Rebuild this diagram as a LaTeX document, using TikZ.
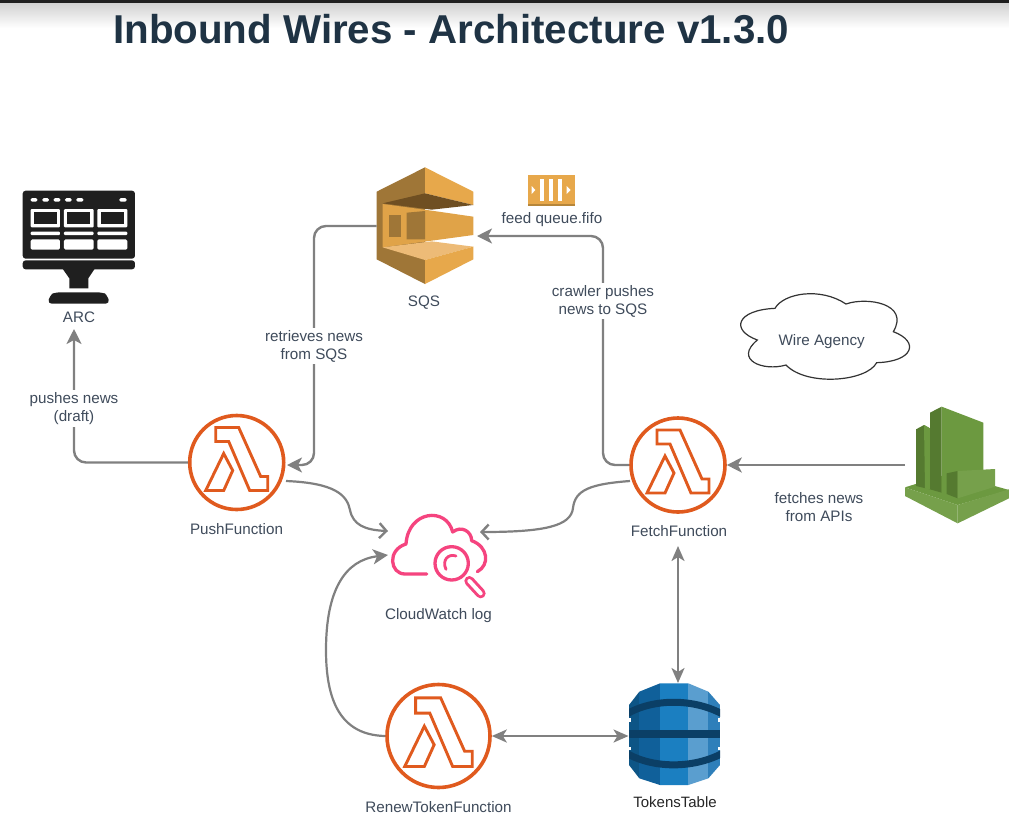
\documentclass[tikz,border=0pt]{standalone}
\usepackage{fontspec}
\setmainfont{Liberation Sans}
\usetikzlibrary{arrows.meta,calc}
\definecolor{txt}{HTML}{3F4B5B}
\definecolor{titlec}{HTML}{1F3344}
\definecolor{conn}{HTML}{808080}
\definecolor{lam}{HTML}{E05A1E}
\definecolor{pink}{HTML}{F5447F}
\definecolor{sqsA}{HTML}{E7A84B}
\definecolor{sqsB}{HTML}{9F7637}
\definecolor{sqsC}{HTML}{6F4F22}
\definecolor{sqsD}{HTML}{EDBB77}
\definecolor{sqsE}{HTML}{E0A348}
\definecolor{sqsF}{HTML}{B6863A}
\definecolor{grA}{HTML}{6C9940}
\definecolor{grB}{HTML}{557A30}
\definecolor{grC}{HTML}{76A04B}
\definecolor{blA}{HTML}{1B7FC1}
\definecolor{blB}{HTML}{10609A}
\definecolor{blF}{HTML}{0D5586}
\definecolor{blC}{HTML}{5A9ECF}
\definecolor{blD}{HTML}{2E7FBA}
\definecolor{blE}{HTML}{0B3F66}
\tikzset{
  x=1pt,y=-1pt,
  lbl/.style={text=txt,font=\fontsize{15.2}{18}\selectfont,align=center,inner sep=0pt},
  lblw/.style={lbl,fill=white,inner sep=2pt},
  wire/.style={draw=conn,line width=2.4pt,rounded corners=12pt},
  solidhead/.style={-{Stealth[length=15pt,width=15pt,inset=4pt]}},
  bothhead/.style={{Stealth[length=15pt,width=13pt,inset=4pt]}-{Stealth[length=15pt,width=13pt,inset=4pt]}},
  openhead/.style={-{Straight Barb[length=7pt,width=15pt,line width=2.4pt]}},
  lambdacirc/.style={circle,draw=lam,line width=3.6pt,fill=white,inner sep=0pt},
  anchorbox/.style={inner sep=0pt,outer sep=0pt},
  pics/lambda/.style={code={
    \draw[lam,line width=2.9pt,line join=miter]
      (-21,-35)--(2,-35)--(24,14)--(31,14)--(31,28)--(13,28)--(-8,-21)--(-21,-21)--cycle;
    \draw[lam,line width=2.9pt,line join=miter]
      (-13,-9)--(-4,8)--(-13,28)--(-31,28)--cycle;
  }}
}
\begin{document}
\begin{tikzpicture}
\useasboundingbox (0,0) rectangle (1009,815);
\fill[white] (0,0) rectangle (1009,815);
\shade[top color=black!18,bottom color=white] (0,3) rectangle (1009,28);
\fill[black!88] (0,0) rectangle (1009,3);
\node[anchor=west,text=titlec,font=\fontsize{40.3}{44}\selectfont\bfseries,inner sep=0pt] (title) at (113,29) {Inbound Wires - Architecture v1.3.0};

% --- anchors of the icons
\node[anchorbox,minimum width=112pt,minimum height=112pt] (arc) at (79,247) {};
\node[anchorbox,minimum width=97pt,minimum height=117pt] (sqs) at (425,226) {};
\node[anchorbox,minimum width=48pt,minimum height=31pt] (queue) at (551,190) {};
\node[anchorbox,minimum width=104pt,minimum height=118pt] (build) at (957,465) {};
\node[anchorbox,minimum width=92pt,minimum height=102pt] (table) at (674.5,734) {};
\node[anchorbox,minimum width=100pt,minimum height=88pt] (cw) at (438.5,556) {};
\node[lambdacirc,minimum size=94pt] (push) at (236.7,462.5) {};
\node[lambdacirc,minimum size=94pt] (fetch) at (678,465) {};
\node[lambdacirc,minimum size=103pt] (renew) at (438.5,736) {};
\pic at (push) {lambda};
\pic at (fetch) {lambda};
\pic[scale=1.09] at (renew) {lambda};

% --- ARC monitor
\begin{scope}[shift={(0,150)},scale=1/3]
  \fill[black!88,rounded corners=3pt] (68,122) rectangle (405,326);
  \fill[black!88,rounded corners=3pt] (68,331) rectangle (405,358);
  \fill[black!88] (187,355)--(285,355)--(265,385)--(265,415)--(208,415)--(208,385)--cycle;
  \fill[black!88,rounded corners=4pt] (143,461)--(150,435)--(165,427)--(308,427)--(322,435)--(329,461)--cycle;
  \foreach \a/\b in {92/112,127/147,161/181,195/215,229/250,358/380}
    \fill[white,rounded corners=1.5pt] (\a,144) rectangle (\b,155);
  \foreach \a/\b in {92/180,192/281,292/382}{
    \fill[white,rounded corners=1pt] (\a,177) rectangle (\b,232);
    \fill[black!88] ($(\a,186)+(10,0)$) rectangle ($(\b,222)+(-10,0)$);
    \fill[white,rounded corners=1pt] (\a,245) rectangle (\b,255);
    \fill[white,rounded corners=1.5pt] (\a,268) rectangle (\b,299);
  }
\end{scope}

% --- SQS
\begin{scope}[shift={(360,160)},scale=1/3]
  \fill[sqsB] (50,95)--(195,22)--(195,372)--(50,298)--cycle;
  \fill[sqsA] (195,22)--(340,95)--(340,135)--(195,100)--cycle;
  \fill[sqsC] (68,130)--(195,100)--(340,135)--(215,149)--cycle;
  \fill[sqsE] (68,132)--(215,152)--(340,170)--(340,225)--(215,242)--(68,262)--cycle;
  \fill[sqsD] (68,262)--(215,244)--(340,260)--(195,300)--cycle;
  \fill[sqsA] (195,300)--(340,260)--(340,298)--(195,372)--cycle;
  \fill[sqsB] (88,165)--(122,165)--(122,230)--(88,230)--cycle;
  \fill[sqsB] (140,158)--(195,153)--(195,238)--(140,238)--cycle;
\end{scope}

% --- queue
\begin{scope}[shift={(360,160)},scale=1/3]
  \fill[sqsA] (503,45) rectangle (645,132);
  \fill[sqsF] (503,132) rectangle (645,138);
  \foreach \a/\b in {540/552,567/580,595/607}
    \fill[white] (\a,58) rectangle (\b,122);
  \fill[white] (515,78)--(526,90)--(515,102)--cycle;
  \fill[white] (620,78)--(632,90)--(620,102)--cycle;
\end{scope}

% --- building
\begin{scope}[shift={(880,390)},scale=1/3]
  \fill[grA] (75,292)--(210,250)--(387,300)--(233,345)--cycle;
  \fill[grC] (75,292)--(233,345)--(233,400)--(75,318)--cycle;
  \fill[grC] (233,345)--(387,298)--(387,325)--(233,400)--cycle;
  \fill[grB] (108,118)--(132,105)--(150,115)--(150,298)--(108,288)--cycle;
  \fill[grA] (132,105)--(150,115)--(150,298)--(135,296)--cycle;
  \fill[grB] (150,68)--(185,50)--(185,308)--(150,298)--cycle;
  \fill[grA] (185,50)--(310,98)--(310,245)--(185,308)--cycle;
  \fill[grB] (200,250)--(233,243)--(233,325)--(200,312)--cycle;
  \fill[grC] (233,243)--(345,237)--(345,290)--(233,325)--cycle;
\end{scope}

% --- DynamoDB
\begin{scope}[shift={(610,670)},scale=1/3]
  \begin{scope}
    \clip (57,105)--(88,65)--(150,40)--(235,40)--(295,65)--(330,105)--(330,285)--(295,325)--(235,345)--(150,345)--(88,325)--(57,285)--cycle;
    \fill[blF] (57,30) rectangle (88,350);
    \fill[blB] (88,30) rectangle (150,350);
    \fill[blA] (150,30) rectangle (235,350);
    \fill[blC] (235,30) rectangle (295,350);
    \fill[blD] (295,30) rectangle (330,350);
    \fill[blE] (57,180) rectangle (330,203);
    \draw[blE,line width=7pt] (50,132) .. controls (130,85) and (250,85) .. (337,132);
    \draw[blE,line width=7pt] (50,250) .. controls (130,296) and (250,296) .. (337,250);
  \end{scope}
  \fill[white] (55,145) rectangle (62,155);
  \fill[white] (55,230) rectangle (62,240);
  \fill[white] (325,145) rectangle (332,155);
  \fill[white] (325,230) rectangle (332,240);
\end{scope}

% --- CloudWatch
\begin{scope}[shift={(170,400)},scale=1/3]
  \draw[pink,line width=3.3pt,line cap=round,line join=round]
    (770,522)--(705,522) .. controls (660,522) and (650,450) .. (708,432)
    .. controls (715,330) and (830,320) .. (848,396)
    .. controls (875,375) and (905,395) .. (905,422)
    .. controls (955,440) and (960,495) .. (922,515);
  \draw[pink,line width=3.3pt] (845,490) circle[radius=50];
  \draw[pink,line width=2.8pt,line cap=round] (858,468) .. controls (835,460) and (815,480) .. (828,508);
  \draw[pink,line width=10pt,line cap=round] (898,543)--(932,580);
  \draw[white,line width=4pt,line cap=round] (898,543)--(932,580);
\end{scope}

% --- Wire Agency cloud
\begin{scope}[shift={(720,280)},scale=1/3]
  \node[anchorbox,minimum width=170pt,minimum height=90pt] (wire) at (305,185) {};
  \draw[black!80,line width=1.2pt]
    (112,180) .. controls (30,150) and (50,90) .. (165,85)
    .. controls (190,40) and (300,20) .. (378,72)
    .. controls (440,50) and (570,70) .. (520,155)
    .. controls (600,185) and (580,245) .. (470,248)
    .. controls (440,305) and (260,320) .. (198,255)
    .. controls (130,275) and (40,240) .. (112,180) -- cycle;
\end{scope}
\node[lbl] (wirelbl) at (wire) {Wire Agency};

% --- labels
\node[lbl] (arclbl) at (79,317) {ARC};
\node[lbl] (sqslbl) at (424,302.5) {SQS};
\node[lbl] (queuelbl) at (552,220) {feed queue.fifo};
\node[lbl] (pushlbl) at (236.5,529) {PushFunction};
\node[lbl] (fetchlbl) at (679,531) {FetchFunction};
\node[lbl] (renewlbl) at (438.5,807) {RenewTokenFunction};
\node[lbl] (cwlbl) at (438.5,616) {CloudWatch log};
\node[lbl,text=black!85,font=\fontsize{15}{18}\selectfont] (tablelbl) at (675,802) {TokensTable};
\node[lbl] (apilbl) at (819,507) {fetches news\\from APIs};

% --- connectors
\coordinate (arcin) at (74,329);
\coordinate (sqsin) at (477,236);
\coordinate (cwa) at (388,531);
\coordinate (cwb) at (480,532);
\coordinate (cwc) at (388,555);
\coordinate (pushout) at (286,481);
\coordinate (fetchout) at (630,481);
\coordinate (pushin) at (287,465);
\coordinate (fetchbelow) at (678,546);
\coordinate (tabletop) at (678,683);
\draw[wire,solidhead] (push.west) -- (74,462.5) -- (arcin);
\draw[wire,solidhead] (sqs.west) -- (314,226) -- (314,465) -- (pushin);
\draw[wire,solidhead] (fetch.west) -- (603,465) -- (603,236) -- (sqsin);
\draw[wire,solidhead] (build.west) -- (fetch.east);
\draw[wire,bothhead] (fetchbelow) -- (tabletop);
\draw[wire,bothhead] (renew.east) -- (renew.east -| table.west);
\draw[conn,line width=2.2pt,openhead] (pushout) .. controls (335,483) and (347,495) .. (350,510) .. controls (353,525) and (365,530) .. (cwa);
\draw[conn,line width=2.2pt,openhead] (fetchout) .. controls (590,484) and (575,490) .. (573,508) .. controls (571,526) and (545,532) .. (cwb);
\draw[conn,line width=2.2pt,solidhead] (renew.west) .. controls (340,735) and (326,700) .. (326,650) .. controls (326,590) and (345,560) .. (cwc);

\node[lblw] (pushnews) at (74,408.5) {pushes news\\(draft)};
\node[lblw] (retr) at (314,346) {retrieves news\\from SQS};
\node[lblw] (crawl) at (603,301) {crawler pushes\\news to SQS};
\end{tikzpicture}
\end{document}
